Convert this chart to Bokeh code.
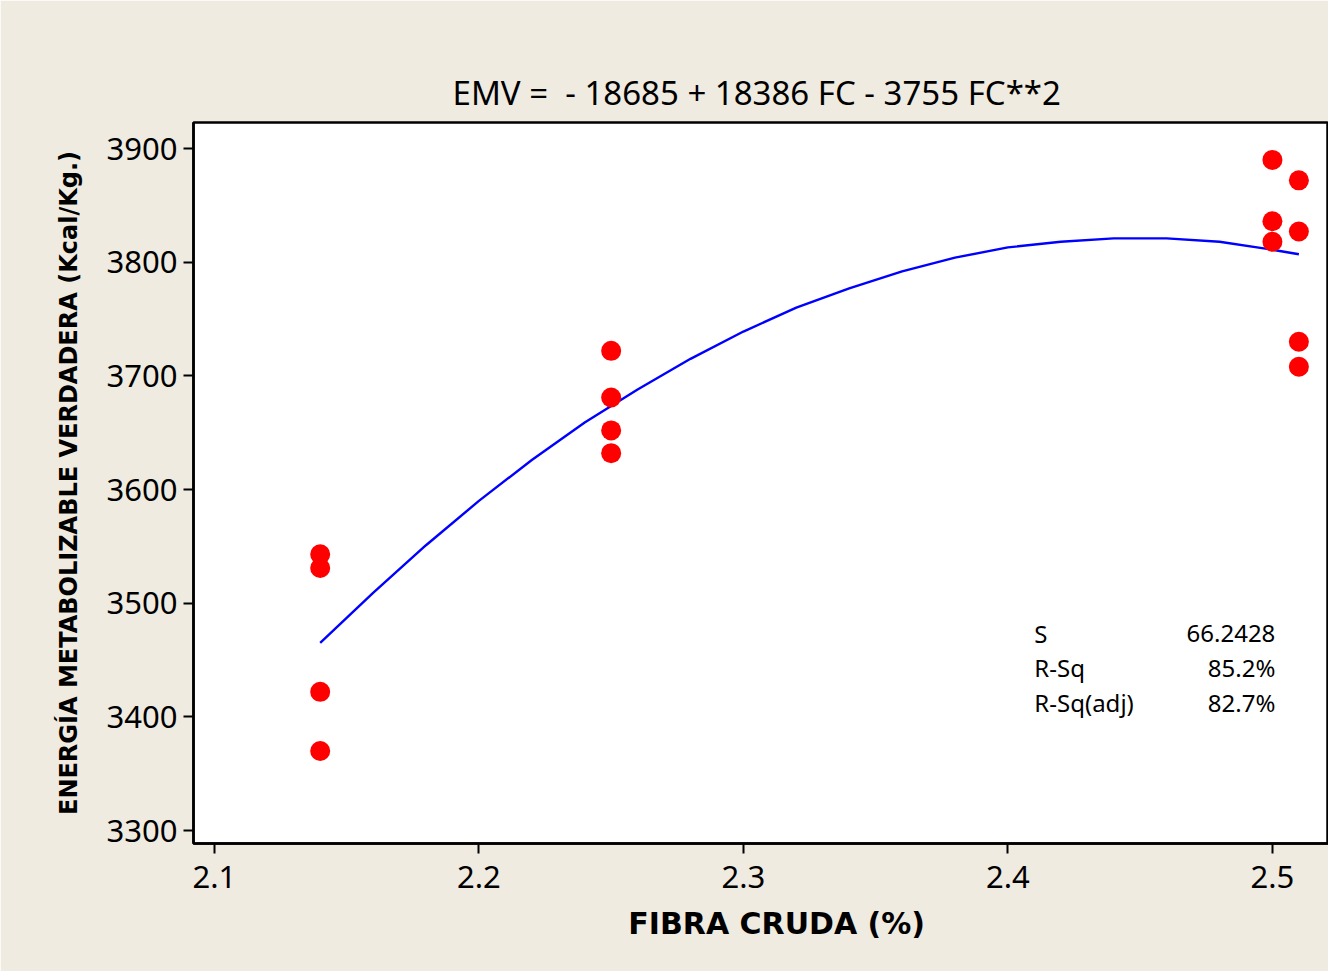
from bokeh.plotting import figure
from bokeh.models import FixedTicker, Range1d, Label
from bokeh.embed import file_html
from bokeh.resources import INLINE

# Observed data
fc_obs = [2.14, 2.14, 2.14, 2.14,
          2.25, 2.25, 2.25, 2.25,
          2.50, 2.50, 2.50,
          2.51, 2.51, 2.51, 2.51]
emv_obs = [3543, 3531, 3422, 3370,
           3722, 3681, 3652, 3632,
           3890, 3836, 3818,
           3872, 3827, 3730, 3708]

# Fitted curve
fc_fit = [2.14, 2.16, 2.18, 2.20, 2.22, 2.24, 2.26, 2.28, 2.30, 2.32,
          2.34, 2.36, 2.38, 2.40, 2.42, 2.44, 2.46, 2.48, 2.50, 2.51]
emv_fit = [3465, 3509, 3551, 3590, 3626, 3659, 3688, 3715, 3739, 3760,
           3777, 3792, 3804, 3813, 3818, 3821, 3821, 3818, 3811, 3807]

x_ticks = [2.1, 2.2, 2.3, 2.4, 2.5]
y_ticks = [3300, 3400, 3500, 3600, 3700, 3800, 3900]

title_text = "EMV =\u00a0 - 18685 + 18386 FC - 3755 FC**2\u00a0"
x_label = "\u00a0\u00a0\u00a0FIBRA CRUDA (%)"
y_label = "ENERGÍA METABOLIZABLE VERDADERA (Kcal/Kg.)"
stat_names = ["S", "R-Sq", "R-Sq(adj)"]
stat_values = ["66.2428", "85.2%", "82.7%"]
stat_y = [3473, 3443, 3413]

BG = "#EFEBE1"
FONT = "Noto Sans"

p = figure(width=1328, height=971, output_backend="svg", toolbar_location=None,
           x_range=Range1d(2.0921, 2.5212), y_range=Range1d(3288.6, 3922.9),
           min_border_left=193, min_border_right=0, min_border_top=122,
           min_border_bottom=128)

p.background_fill_color = "white"
p.border_fill_color = BG
p.outline_line_color = "black"
p.outline_line_width = 2.5
p.grid.visible = False

p.title.text = title_text
p.title.align = "center"
p.title.text_font = FONT
p.title.text_font_size = "33px"
p.title.text_font_style = "normal"
p.title.text_color = "black"
p.title.standoff = 15

for ax in (p.xaxis[0], p.yaxis[0]):
    ax.axis_line_width = 2.5
    ax.axis_line_color = "black"
    ax.major_tick_line_width = 2
    ax.major_tick_line_color = "black"
    ax.major_tick_out = 10
    ax.major_tick_in = 0
    ax.minor_tick_line_color = None
    ax.major_label_text_font = FONT
    ax.major_label_text_font_size = "31px"
    ax.major_label_text_color = "black"
    ax.axis_label_text_font = "DejaVu Sans"
    ax.axis_label_text_font_style = "bold"
    ax.axis_label_text_color = "black"

p.xaxis.ticker = FixedTicker(ticks=x_ticks)
p.yaxis.ticker = FixedTicker(ticks=y_ticks)
p.xaxis.major_label_standoff = 12
p.yaxis.major_label_standoff = 6
p.xaxis.axis_label = x_label
p.yaxis.axis_label = y_label
p.xaxis.axis_label_text_font_size = "30px"
p.yaxis.axis_label_text_font_size = "24px"
p.xaxis.axis_label_standoff = 15
p.yaxis.axis_label_standoff = 21

p.line(fc_fit, emv_fit, line_color="#0000FF", line_width=2.4)
p.scatter(fc_obs, emv_obs, size=20, fill_color="#FF0000", line_color=None)

for name, val, yv in zip(stat_names, stat_values, stat_y):
    p.add_layout(Label(x=2.41, y=yv, text=name, text_font=FONT,
                       text_font_size="24px", text_baseline="middle",
                       text_align="left", text_color="black"))
    p.add_layout(Label(x=2.5011, y=yv, text=val, text_font=FONT,
                       text_font_size="24px", text_baseline="middle",
                       text_align="right", text_color="black"))

open("out.html", "w").write(file_html(p, INLINE))
